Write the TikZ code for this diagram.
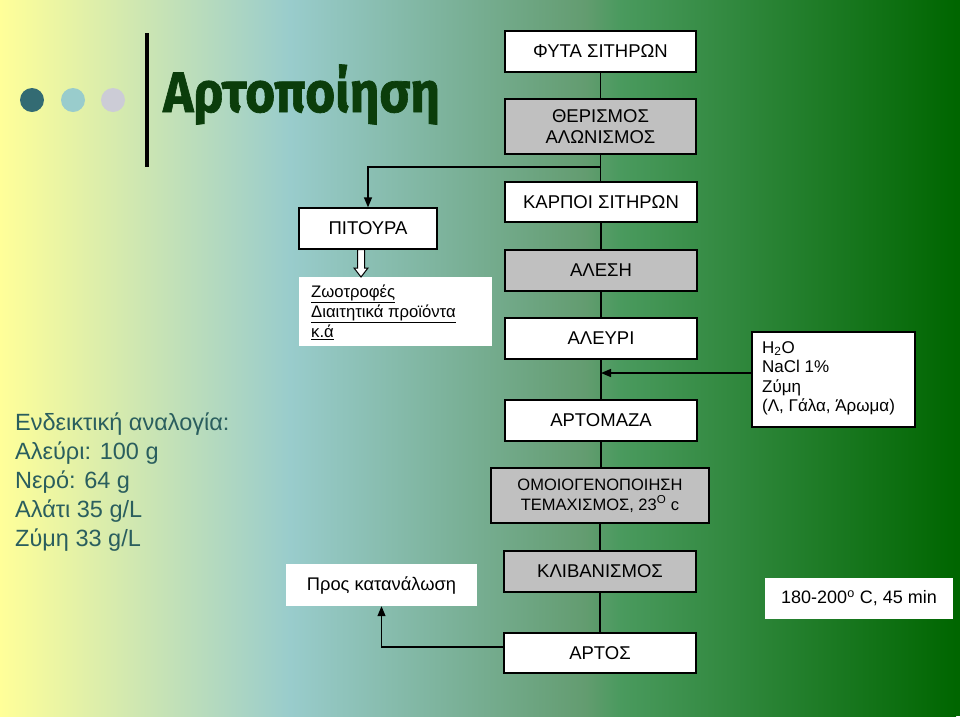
\documentclass[tikz,border=0pt]{standalone}
\usepackage{fontspec}
\setmainfont{Liberation Sans}
\newfontfamily\titlefont[BoldFeatures={FakeBold=1.2}]{Fira Sans}
\usetikzlibrary{arrows.meta}
\definecolor{bgA}{HTML}{FFFF99}
\definecolor{bgB}{HTML}{99CCCC}
\definecolor{bgC}{HTML}{639C70}
\definecolor{bgD}{HTML}{4A9A5E}
\definecolor{bgE}{HTML}{006600}
\definecolor{boxgray}{HTML}{C0C0C0}
\definecolor{titlegreen}{HTML}{0B3D0B}
\definecolor{ratiotext}{HTML}{2A5E5E}
\definecolor{dotA}{HTML}{336B73}
\definecolor{dotB}{HTML}{99CCCC}
\definecolor{dotC}{HTML}{CCCCD6}
\tikzset{
  stepbox/.style={draw=black, line width=1.3pt, fill=white, inner sep=2pt, align=center, font=\fontsize{18.5}{20.5}\selectfont},
  graybox/.style={stepbox, fill=boxgray},
  plainbox/.style={fill=white, inner sep=0pt},
  conn/.style={line width=1.3pt},
  arr/.style={line width=1.3pt, -{Triangle[length=10pt,width=8pt]}}
}
\begin{document}
\begin{tikzpicture}[x=1pt,y=-1pt]
\useasboundingbox (0,0) rectangle (960,716);
% background gradient
\shade[left color=bgA, right color=bgB] (0,0) rectangle (290,716);
\shade[left color=bgB, right color=bgC] (290,0) rectangle (585,716);
\shade[left color=bgC, right color=bgD] (585,0) rectangle (620,716);
\shade[left color=bgD, right color=bgE] (620,0) rectangle (956,716);
\fill[bgE] (956,0) rectangle (960,716);

% title block
\fill[dotA] (32,100) circle (12);
\fill[dotB] (73,100) circle (12);
\fill[dotC] (113,100) circle (12);
\fill[black] (145,33) rectangle (149,167);
\node[anchor=base west, inner sep=0pt, text=titlegreen, font=\titlefont\bfseries\fontsize{57}{60}\selectfont] (title) at (163,112) {\scalebox{0.9}[1]{Αρτοποίηση}};

% ratio text
\node[anchor=north west, inner sep=0pt, align=left, text=ratiotext, font=\fontsize{23.5}{29}\selectfont] (ratio) at (15,413)
 {Ενδεικτική αναλογία:\\Αλεύρι: 100 g\\Νερό: 64 g\\Αλάτι 35 g/L\\Ζύμη 33 g/L};

% main column boxes
\node[stepbox, minimum width=191, minimum height=41] (fyta) at (600.5,51.5) {ΦΥΤΑ ΣΙΤΗΡΩΝ};
\node[graybox, minimum width=191, minimum height=55] (ther) at (600.5,126.5) {ΘΕΡΙΣΜΟΣ\\ΑΛΩΝΙΣΜΟΣ};
\node[stepbox, minimum width=192, minimum height=40] (karp) at (601,202) {ΚΑΡΠΟΙ ΣΙΤΗΡΩΝ};
\node[graybox, minimum width=192, minimum height=41] (ales) at (601,270.5) {ΑΛΕΣΗ};
\node[stepbox, minimum width=192, minimum height=41] (aleu) at (601,338.5) {ΑΛΕΥΡΙ};
\node[stepbox, minimum width=192, minimum height=41] (mass) at (601,420.5) {ΑΡΤΟΜΑΖΑ};
\node[graybox, minimum width=218, minimum height=55, font=\fontsize{16.5}{20}\selectfont] (omog) at (600,495.5) {ΟΜΟΙΟΓΕΝΟΠΟΙΗΣΗ\\ΤΕΜΑΧΙΣΜΟΣ, 23\textsuperscript{O} c};
\node[graybox, minimum width=192, minimum height=41] (kliv) at (600,571.5) {ΚΛΙΒΑΝΙΣΜΟΣ};
\node[stepbox, minimum width=192, minimum height=40] (artos) at (600,653) {ΑΡΤΟΣ};

% side boxes
\node[stepbox, minimum width=138, minimum height=41] (pit) at (368,228.5) {ΠΙΤΟΥΡΑ};
\node[plainbox, minimum width=193, minimum height=69] (zwo) at (395.5,311.5) {};
\node[anchor=north west, inner sep=0pt, align=left, font=\fontsize{16.7}{20}\selectfont] (zwotext) at (311,285)
 {\underline{Ζωοτροφές}\\\underline{Διαιτητικά προϊόντα}\\\underline{κ.ά}};
\node[stepbox, line width=1.1pt, minimum width=163, minimum height=95] (h2o) at (833.5,379.5) {};
\node[anchor=north west, inner sep=0pt, align=left, font=\fontsize{17}{19.5}\selectfont] (h2otext) at (762,341)
 {H\textsubscript{2}O\\NaCl 1\%\\Ζύμη\\(Λ, Γάλα, Άρωμα)};
\node[plainbox, minimum width=191, minimum height=42, font=\fontsize{18.3}{20}\selectfont] (pros) at (381.5,585) {Προς κατανάλωση};
\node[plainbox, minimum width=188, minimum height=41, font=\fontsize{18}{20}\selectfont] (temp) at (859,598.5) {180-200\textsuperscript{o} C, 45 min};

% hollow arrow from ΠΙΤΟΥΡΑ
\draw[line width=1pt, fill=white] (357.5,249.5) -- (364.5,249.5) -- (364.5,268) -- (368,268) -- (361,277) -- (354,268) -- (357.5,268) -- cycle;

% connectors on the main column
\draw[conn] (fyta.south) -- (fyta.south |- ther.north);
\draw[conn] (ther.south) -- (ther.south |- karp.north);
\draw[conn] (karp.south) -- (karp.south |- ales.north);
\draw[conn] (ales.south) -- (ales.south |- aleu.north);
\draw[conn] (aleu.south) -- (aleu.south |- mass.north);
\draw[conn] (mass.south) -- (mass.south |- omog.north);
\draw[conn] (omog.south) -- (omog.south |- kliv.north);
\draw[conn] (kliv.south) -- (kliv.south |- artos.north);

% branch to ΠΙΤΟΥΡΑ
\coordinate (br) at (601,167);
\draw[arr] (br) -| (pit.north);

% additions into the dough
\coordinate (mix) at (601,373);
\draw[arr] (h2o.west |- mix) -- (mix);

% bread to consumption
\draw[arr] ([yshift=6pt]artos.west) -| (pros.south);
\end{tikzpicture}
\end{document}
